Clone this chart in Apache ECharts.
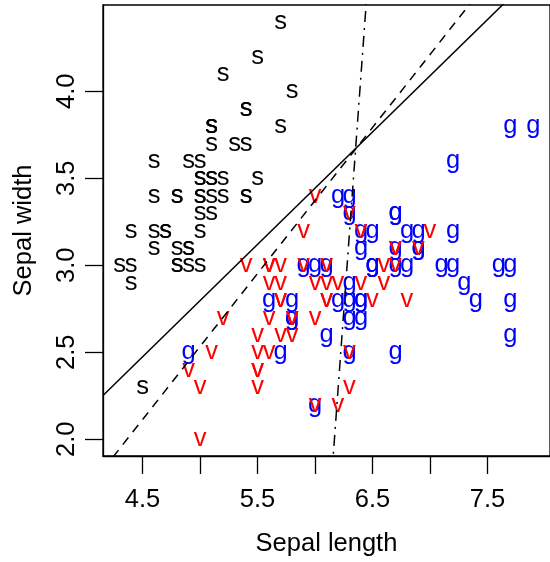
<!DOCTYPE html>
<html>
<head>
<meta charset="utf-8">
<script src="https://cdn.jsdelivr.net/npm/echarts@6/dist/echarts.min.js"></script>
<style>
  html, body { margin: 0; padding: 0; background: #fff; }
  #main { width: 550px; height: 562px; }
</style>
</head>
<body>
<div id="main"></div>
<script>
// iris: sepal length / width per species
const setosaLength = [5.1,4.9,4.7,4.6,5.0,5.4,4.6,5.0,4.4,4.9,5.4,4.8,4.8,4.3,5.8,5.7,5.4,5.1,5.7,5.1,5.4,5.1,4.6,5.1,4.8,5.0,5.0,5.2,5.2,4.7,4.8,5.4,5.2,5.5,4.9,5.0,5.5,4.9,4.4,5.1,5.0,4.5,4.4,5.0,5.1,4.8,5.1,4.6,5.3,5.0];
const setosaWidth  = [3.5,3.0,3.2,3.1,3.6,3.9,3.4,3.4,2.9,3.1,3.7,3.4,3.0,3.0,4.0,4.4,3.9,3.5,3.8,3.8,3.4,3.7,3.6,3.3,3.4,3.0,3.4,3.5,3.4,3.2,3.1,3.4,4.1,4.2,3.1,3.2,3.5,3.6,3.0,3.4,3.5,2.3,3.2,3.5,3.8,3.0,3.8,3.2,3.7,3.3];
const versicolorLength = [7.0,6.4,6.9,5.5,6.5,5.7,6.3,4.9,6.6,5.2,5.0,5.9,6.0,6.1,5.6,6.7,5.6,5.8,6.2,5.6,5.9,6.1,6.3,6.1,6.4,6.6,6.8,6.7,6.0,5.7,5.5,5.5,5.8,6.0,5.4,6.0,6.7,6.3,5.6,5.5,5.5,6.1,5.8,5.0,5.6,5.7,5.7,6.2,5.1,5.7];
const versicolorWidth  = [3.2,3.2,3.1,2.3,2.8,2.8,3.3,2.4,2.9,2.7,2.0,3.0,2.2,2.9,2.9,3.1,3.0,2.7,2.2,2.5,3.2,2.8,2.5,2.8,2.9,3.0,2.8,3.0,2.9,2.6,2.4,2.4,2.7,2.7,3.0,3.4,3.1,2.3,3.0,2.5,2.6,3.0,2.6,2.3,2.7,3.0,2.9,2.9,2.5,2.8];
const virginicaLength = [6.3,5.8,7.1,6.3,6.5,7.6,4.9,7.3,6.7,7.2,6.5,6.4,6.8,5.7,5.8,6.4,6.5,7.7,7.7,6.0,6.9,5.6,7.7,6.3,6.7,7.2,6.2,6.1,6.4,7.2,7.4,7.9,6.4,6.3,6.1,7.7,6.3,6.4,6.0,6.9,6.7,6.9,5.8,6.8,6.7,6.7,6.3,6.5,6.2,5.9];
const virginicaWidth  = [3.3,2.7,3.0,2.9,3.0,3.0,2.5,2.9,2.5,3.6,3.2,2.7,3.0,2.5,2.8,3.2,3.0,3.8,2.6,2.2,3.2,2.8,2.8,2.7,3.3,3.2,2.8,3.0,2.8,3.0,2.8,3.8,2.8,2.8,2.6,3.0,3.4,3.1,3.0,3.1,3.1,3.1,2.7,3.2,3.3,3.0,2.5,3.0,3.4,3.0];

// axis ranges and ticks
const xRange = [4.156, 8.044];
const yRange = [1.904, 4.496];
const xTicks = [4.5, 5.0, 5.5, 6.0, 6.5, 7.0, 7.5];
const xTickLabels = [4.5, 5.5, 6.5, 7.5];
const yTicks = [2.0, 2.5, 3.0, 3.5, 4.0];

// boundary lines y = a + b*x
const lineIntercept = [-0.433, -1.662, -53.89];
const lineSlope = [0.646, 0.839, 9.06];
const lineDash = ['solid', [9, 7], [11, 6, 2, 6]];

const FONT = '"Liberation Sans", Arial, Helvetica, sans-serif';
const FS = 25.5;

function zip(a, b) {
    return a.map((v, i) => [v, b[i]]);
}

function textSeries(name, data, letter, color) {
    return {
        name: name,
        type: 'custom',
        clip: true,
        data: data,
        renderItem: function (params, api) {
            var p = api.coord([api.value(0), api.value(1)]);
            return {
                type: 'text',
                x: p[0],
                y: p[1],
                style: {
                    text: letter,
                    fill: color,
                    fontSize: FS,
                    fontFamily: FONT,
                    align: 'center',
                    verticalAlign: 'middle'
                }
            };
        }
    };
}

var lineSeries = lineIntercept.map(function (a, i) {
    var b = lineSlope[i];
    return {
        type: 'line',
        showSymbol: false,
        symbol: 'none',
        clip: true,
        silent: true,
        lineStyle: { color: '#000', width: 1.5, type: lineDash[i] },
        data: [[xRange[0], a + b * xRange[0]], [xRange[1], a + b * xRange[1]]]
    };
});

var myChart = echarts.init(document.getElementById('main'));
var options = {
    animation: false,
    grid: {
        left: 103, top: 5, width: 453, height: 453,
        show: true, borderColor: '#000', borderWidth: 1.3
    },
    xAxis: {
        type: 'value',
        min: xRange[0], max: xRange[1],
        name: 'Sepal length',
        nameLocation: 'middle',
        nameGap: 75,
        nameTextStyle: { fontSize: FS, color: '#000', fontFamily: FONT },
        axisLine: { show: true, lineStyle: { color: '#000', width: 1.3 } },
        axisTick: { show: true, length: 18, customValues: xTicks, lineStyle: { color: '#000', width: 1.3 } },
        axisLabel: {
            customValues: xTickLabels,
            formatter: function (v) { return v.toFixed(1); },
            fontSize: FS, color: '#000', fontFamily: FONT, margin: 31
        },
        splitLine: { show: false }
    },
    yAxis: {
        type: 'value',
        min: yRange[0], max: yRange[1],
        name: 'Sepal width',
        nameLocation: 'middle',
        nameGap: 66,
        nameRotate: 90,
        nameTextStyle: { fontSize: FS, color: '#000', fontFamily: FONT },
        axisLine: { show: true, lineStyle: { color: '#000', width: 1.3 } },
        axisTick: { show: true, length: 18, customValues: yTicks, lineStyle: { color: '#000', width: 1.3 } },
        axisLabel: {
            customValues: yTicks,
            rotate: 90,
            formatter: function (v) { return v.toFixed(1); },
            fontSize: FS, color: '#000', fontFamily: FONT, margin: 23
        },
        splitLine: { show: false }
    },
    series: [
        textSeries('setosa', zip(setosaLength, setosaWidth), 's', '#000'),
        textSeries('virginica', zip(virginicaLength, virginicaWidth), 'g', '#0000ff'),
        textSeries('versicolor', zip(versicolorLength, versicolorWidth), 'v', '#ff0000')
    ].concat(lineSeries)
};
myChart.setOption(options, true);
</script>
</body>
</html>
